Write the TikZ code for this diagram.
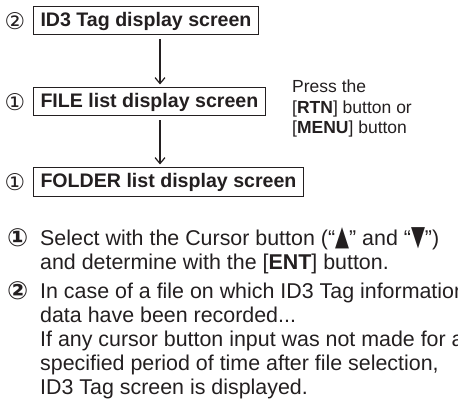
\documentclass[tikz,border=0pt]{standalone}
\usepackage{fontspec}
\setmainfont{Liberation Sans}
\newfontfamily\symfont{DejaVu Sans}
\usetikzlibrary{arrows.meta,positioning,calc}
\definecolor{ink}{HTML}{231F20}
\newcommand{\ArrowX}{160}
\newcommand{\NumW}{33pt}
\newcommand{\PicW}{458}
\newcommand{\PicH}{401}
\newcommand{\Tri}[1]{{\symfont\scalebox{0.85}[1.3]{#1}}}
\newcommand{\ListNum}[1]{\makebox[\NumW][l]{\smash{\raisebox{-1pt}{\symfont\bfseries\fontsize{25}{25}\selectfont #1}}}}

\tikzset{
  screen/.style={draw=ink, line width=1pt, inner xsep=7pt, inner ysep=0pt,
    minimum height=28pt, anchor=west, font=\fontsize{19.6}{22}\selectfont\bfseries},
  stepnum/.style={inner sep=0pt, font=\symfont\fontsize{23}{23}\selectfont},
  flow/.style={-{Straight Barb[length=6pt,width=10pt]}, line width=1.2pt,
    shorten <=4pt, shorten >=3pt},
  note/.style={align=left, anchor=north west, inner sep=0pt,
    font=\fontsize{21.4}{24}\selectfont},
  aside/.style={align=left, anchor=north west, inner sep=0pt,
    font=\fontsize{17.5}{20.5}\selectfont},
}

\begin{document}
\begin{tikzpicture}[x=1pt, y=-1pt, ink]
\useasboundingbox (0,0) rectangle (\PicW,\PicH);
\clip (0,0) rectangle (\PicW,\PicH);

% --- Screens, top to bottom ---------------------------------------------------
\node[screen] (id3)    at (33, 21)  {ID3 Tag display screen};
\node[screen] (file)   at (33, 102) {FILE list display screen};
\node[screen] (folder) at (33, 182) {FOLDER list display screen};

\foreach \scr/\num in {id3/②, file/①, folder/①} {
  \node[stepnum] (n-\scr) at (15, 0 |- \scr.west) {\num};
}

% --- Going back -----------------------------------------------------------------
\coordinate (ax) at (\ArrowX, 0);
\draw[flow] (id3.south -| ax) -- (file.north -| ax);
\draw[flow] (file.south -| ax) -- (folder.north -| ax);

\node[aside] (back) at (292, 80)
  {Press the\\{[}\textbf{RTN}{]} button or\\{[}\textbf{MENU}{]} button};

% --- Notes ------------------------------------------------------------------------
\node[note] (note1) at (7, 227)
  {\ListNum{①}Select with the Cursor button (“\Tri{▲}” and “\Tri{▼}”)\\
   \hspace*{\NumW}and determine with the {[}\textbf{ENT}{]} button.};
\node[note] (note2) at (7, 283)
  {\ListNum{②}In case of a file on which ID3 Tag information\\
   \hspace*{\NumW}data have been recorded...\\
   \hspace*{\NumW}If any cursor button input was not made for a\\
   \hspace*{\NumW}specified period of time after file selection,\\
   \hspace*{\NumW}ID3 Tag screen is displayed.};

\end{tikzpicture}
\end{document}
